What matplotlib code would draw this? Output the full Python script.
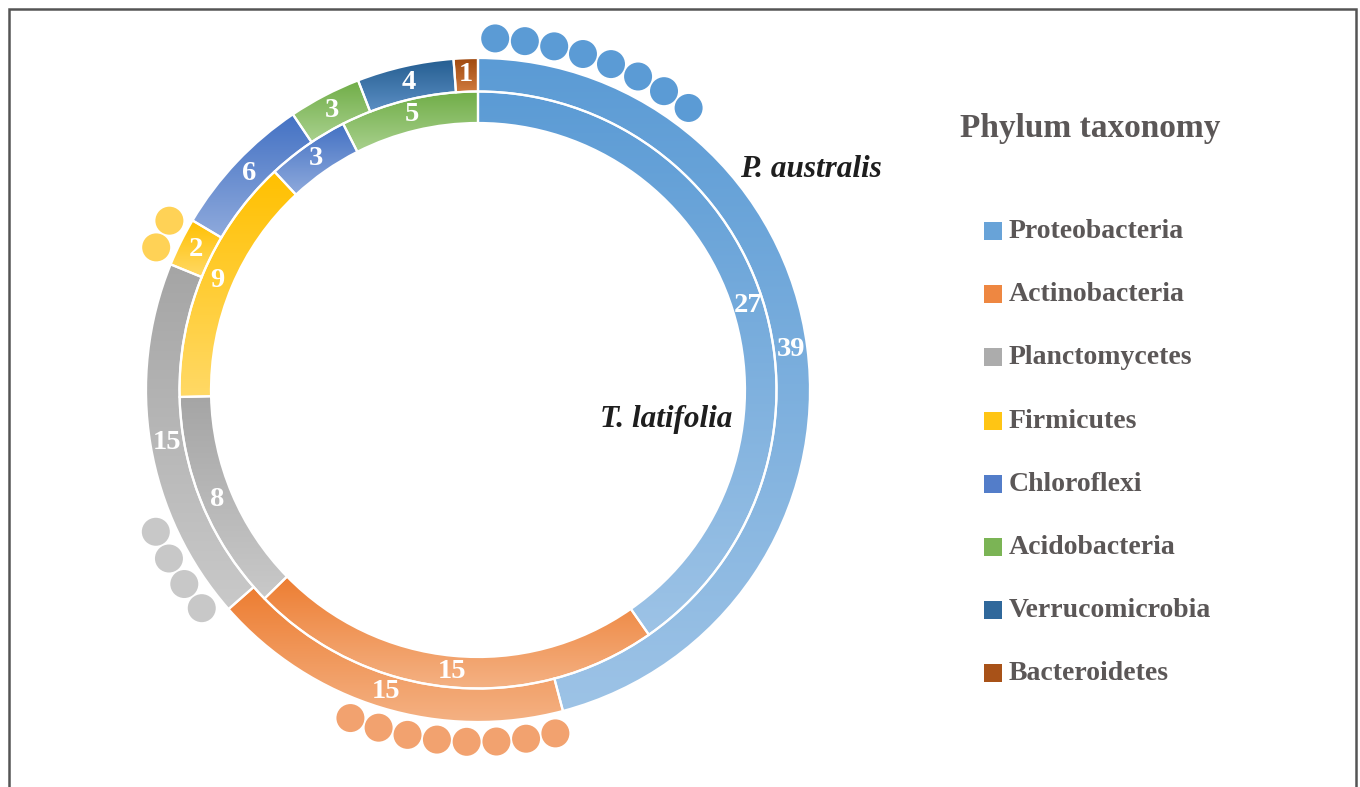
import matplotlib.pyplot as plt
import matplotlib.colors as mcolors
from matplotlib.patches import Circle, Rectangle
import numpy as np

plt.rcParams['font.family'] = ['Liberation Serif', 'DejaVu Serif']

phyla = ['Proteobacteria', 'Actinobacteria', 'Planctomycetes', 'Firmicutes',
         'Chloroflexi', 'Acidobacteria', 'Verrucomicrobia', 'Bacteroidetes']
p_australis = [39, 15, 15, 2, 6, 3, 4, 1]
t_latifolia = [27, 15, 8, 9, 3, 5, 0, 0]

# top / bottom colours of the vertical gradient on each wedge
dark = ['#5B9BD5', '#ED7D31', '#A5A5A5', '#FFC000',
        '#4472C4', '#70AD47', '#255E91', '#9E480E']
light = ['#9DC3E6', '#F4B183', '#C9C9C9', '#FFD966',
         '#8FAADC', '#A9D18E', '#5C8FC4', '#D07A3E']

# bead decorations around the outer ring
dot_phyla = ['Proteobacteria', 'Actinobacteria', 'Planctomycetes', 'Firmicutes']
dot_counts = [8, 8, 4, 2]
dot_colors = ['#5B9BD5', '#F2A26F', '#C8C8C8', '#FFD256']

W, H = 1360, 787
cx, cy = 478, H - 390
R_out, w_out = 332, 33.5
R_in, w_in = 298.5, 31.5

fig = plt.figure(figsize=(13.6, 7.87), dpi=100)
ax = fig.add_axes([0, 0, 1, 1])


def ring(values, radius, width, label_r):
    idx = [i for i, v in enumerate(values) if v > 0]
    vals = [values[i] for i in idx]
    wedges, _ = ax.pie(vals, radius=radius, center=(cx, cy), startangle=90,
                       counterclock=False,
                       wedgeprops=dict(width=width, edgecolor='white', linewidth=1.6))
    for w, i, v in zip(wedges, idx, vals):
        x0, y0, x1, y1 = w.get_path().get_extents().extents
        c0 = np.array(mcolors.to_rgba(dark[i]))
        c1 = np.array(mcolors.to_rgba(light[i]))
        t = np.linspace(0, 1, 256)[:, None, None]
        grad = c0 * (1 - t) + c1 * t
        im = ax.imshow(grad, extent=(x0, x1, y0, y1), origin='upper',
                       aspect='auto', interpolation='bilinear', zorder=1)
        im.set_clip_path(w)
        w.set_facecolor('none')
        w.set_zorder(3)
        mid = np.deg2rad((w.theta1 + w.theta2) / 2)
        ax.text(cx + label_r * np.cos(mid), cy + label_r * np.sin(mid), str(v),
                color='white', fontsize=20.5, fontweight='bold',
                ha='center', va='center', zorder=4)


ring(p_australis, R_out, w_out, R_out - w_out / 2)
ring(t_latifolia, R_in, w_in, R_in - w_in / 2)

# beads, angles measured clockwise from 12 o'clock
dot_start = [2.8, 167.3, 231.7, 293.9]
dot_step = 4.85
dot_r, bead = 352, 14
for n, start, col in zip(dot_counts, dot_start, dot_colors):
    for k in range(n):
        a = np.deg2rad(start + k * dot_step)
        ax.add_patch(Circle((cx + dot_r * np.sin(a), cy + dot_r * np.cos(a)),
                            bead, facecolor=col, edgecolor='none', zorder=2))

ax.text(740, H - 177, 'P. australis', fontsize=22.5, fontweight='bold',
        style='italic', color='#1e1e1e', ha='left', va='baseline')
ax.text(600, H - 427, 'T. latifolia', fontsize=22.5, fontweight='bold',
        style='italic', color='#1e1e1e', ha='left', va='baseline')

# legend
txt_col = '#5b5757'
ax.text(960, H - 137, 'Phylum taxonomy', fontsize=24, fontweight='bold',
        color=txt_col, ha='left', va='baseline')
for i, name in enumerate(phyla):
    yc = H - (231 + i * 63.2)
    sq = mcolors.to_rgba(dark[i])
    sq = tuple(np.array(sq) * 0.8 + np.array(mcolors.to_rgba(light[i])) * 0.2)
    ax.add_patch(Rectangle((984, yc - 9), 18, 18, facecolor=sq, edgecolor='none'))
    ax.text(1009, yc - 7, name, fontsize=20, fontweight='bold',
            color=txt_col, ha='left', va='baseline')

# outer frame
ax.add_patch(Rectangle((8.5, -10), 1347, H - 8.5 + 10, facecolor='none',
                       edgecolor='#555555', linewidth=1.8, zorder=5))

ax.set_xlim(0, W)
ax.set_ylim(0, H)
ax.set_aspect('equal')
ax.axis('off')

fig.savefig('out.png', dpi=100, facecolor='white')
